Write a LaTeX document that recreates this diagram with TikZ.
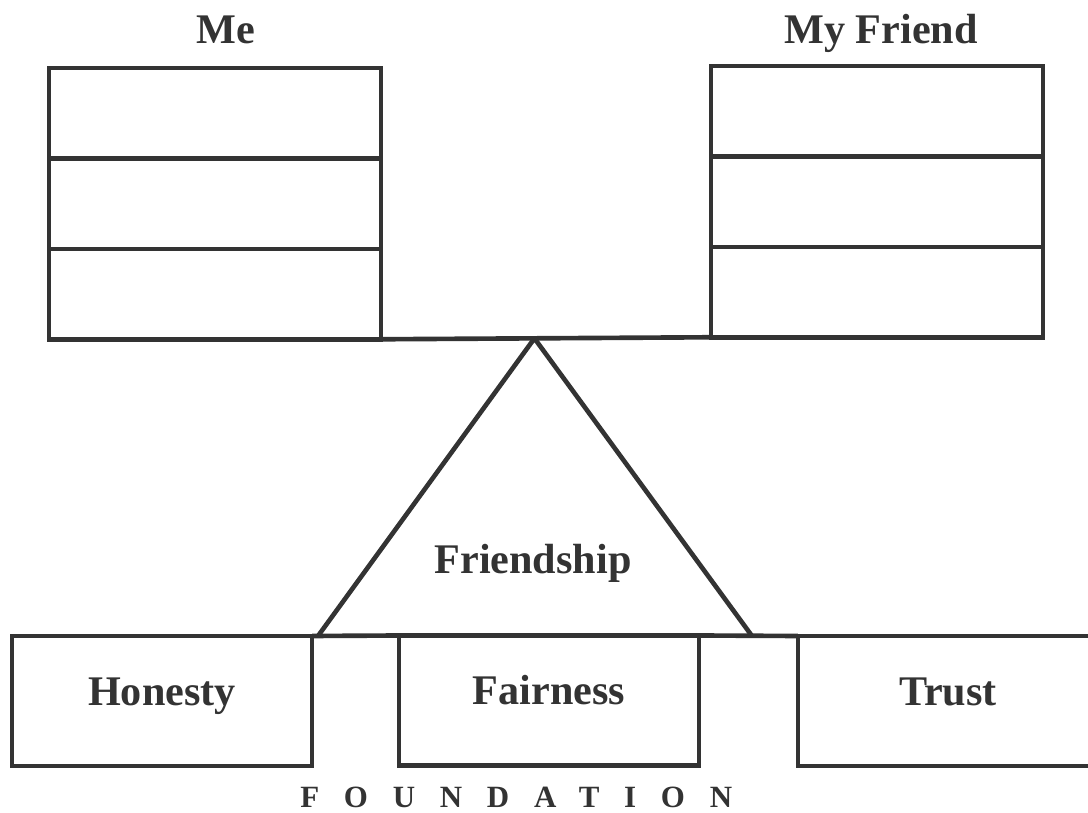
\documentclass[tikz,border=0pt]{standalone}
\usepackage{fontspec}
\setmainfont{Liberation Serif}
\usepackage{xcolor}
\usepackage{tikz}
\usetikzlibrary{positioning,calc}
\definecolor{ink}{HTML}{333333}

\begin{document}
\begin{tikzpicture}[
    x=0.025cm, y=-0.025cm,
    line width=3.3pt, color=ink,
    cell/.style={rectangle, draw=ink, line width=3.3pt, minimum width=8.3cm, minimum height=2.26cm, inner sep=0pt, outer sep=0pt},
    pillar/.style={rectangle, draw=ink, line width=3.3pt, minimum width=7.5cm, minimum height=3.25cm, outer sep=0pt, text height=0.7em, text depth=0.1em, font=\bfseries\fontsize{30}{36}\selectfont},
    title/.style={anchor=base, inner sep=0pt, font=\bfseries\fontsize{30}{36}\selectfont}
]
    \clip (0,0) rectangle (1088,812);

    % Scale pans
    \node[title] (me) at (226,43) {Me};
    \node[title] (friend) at (881,43) {My Friend};

    \node[cell] (me1) at (215,113.2) {};
    \node[cell, below=0cm of me1] (me2) {};
    \node[cell, below=0cm of me2] (me3) {};

    \node[cell] (fr1) at (877,111.2) {};
    \node[cell, below=0cm of fr1] (fr2) {};
    \node[cell, below=0cm of fr2] (fr3) {};

    % Beam and pivot
    \draw (me3.south east) -- (fr3.south west);
    \coordinate (apex) at ($(me3.south east)!0.465!(fr3.south west)$);
    \coordinate (tl) at (318,636);
    \coordinate (tr) at (752,636);
    \draw[line join=round] (tl) -- (apex) -- (tr);
    \node[title] (fship) at (533,573) {Friendship};

    % Foundation blocks
    \node[pillar] (hon) at (162,701) {Honesty};
    \node[pillar] (fai) at (549,700.5) {Fairness};
    \node[pillar] (tru) at (948,701) {Trust};
    \draw (hon.north east) -- (fai.north west) (fai.north east) -- (tru.north west);

    \node[anchor=base west, inner sep=0pt, font=\bfseries\fontsize{22}{26}\selectfont\addfontfeature{LetterSpace=80}] (found) at (298,807) {FOUNDATION};
\end{tikzpicture}
\end{document}
